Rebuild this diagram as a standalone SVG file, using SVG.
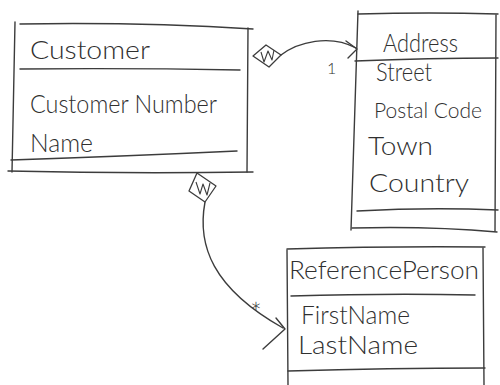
<svg xmlns="http://www.w3.org/2000/svg" width="500" height="385" viewBox="0 0 500 385">
  <style>
    .ln { fill: none; stroke: #3c3c3c; stroke-width: 1.4; stroke-linecap: round; stroke-linejoin: round; }
    .hatch { fill: none; stroke: #3c3c3c; stroke-width: 1.1; stroke-linejoin: round; }
    .dia { fill: #ffffff; stroke: #3c3c3c; stroke-width: 1.3; stroke-linejoin: round; }
    .t { font-family: Lato, "Open Sans", "Liberation Sans", sans-serif; font-weight: 300; font-size: 26px; fill: #303030; }
    .t.small { font-size: 21px; }
    .lbl { font-family: Lato, "Liberation Sans", sans-serif; font-weight: 300; fill: #303030; }
  </style>
  <rect width="500" height="385" fill="#ffffff"/>

  <!-- class: Customer -->
  <g id="customer">
    <path class="ln" d="M20,24 Q140,22 253,29"/>
    <path class="ln" d="M15,22 L12,172"/>
    <path class="ln" d="M248,28 L247,172"/>
    <path class="ln" d="M20,69 Q130,68 240,70"/>
    <path class="ln" d="M11,160 Q130,156 237,151"/>
    <path class="ln" d="M8,171 Q130,174 253,172"/>
    <text class="t" x="30" y="59" textLength="120" lengthAdjust="spacingAndGlyphs">Customer</text>
    <text class="t" x="30" y="113" textLength="187" lengthAdjust="spacingAndGlyphs">Customer Number</text>
    <text class="t" x="30" y="152" textLength="63" lengthAdjust="spacingAndGlyphs">Name</text>
  </g>

  <!-- class: Address -->
  <g id="address">
    <path class="ln" d="M358,14 Q430,12 498,14"/>
    <path class="ln" d="M358,11 Q355,120 351,230"/>
    <path class="ln" d="M355,61 Q430,58 498,58"/>
    <path class="ln" d="M496,15 L495,231"/>
    <path class="ln" d="M357,211 Q430,207 498,210"/>
    <path class="ln" d="M352,228 Q430,226 497,232"/>
    <text class="t" x="383" y="52" textLength="75" lengthAdjust="spacingAndGlyphs">Address</text>
    <text class="t" x="376" y="81" textLength="56" lengthAdjust="spacingAndGlyphs">Street</text>
    <text class="t small" x="374" y="118">Postal Code</text>
    <text class="t" x="368" y="155" textLength="65" lengthAdjust="spacingAndGlyphs">Town</text>
    <text class="t" x="369" y="192" textLength="100" lengthAdjust="spacingAndGlyphs">Country</text>
  </g>

  <!-- class: ReferencePerson -->
  <g id="reference-person">
    <path class="ln" d="M287,249 Q390,246 485,247"/>
    <path class="ln" d="M287,250 L288,385"/>
    <path class="ln" d="M483,248 L484,385"/>
    <path class="ln" d="M291,296 Q390,293 475,295"/>
    <path class="ln" d="M288,371 Q390,368 485,368"/>
    <text class="t" x="289" y="279" textLength="190" lengthAdjust="spacingAndGlyphs">ReferencePerson</text>
    <text class="t" x="301" y="324" textLength="109" lengthAdjust="spacingAndGlyphs">FirstName</text>
    <text class="t" x="298" y="354" textLength="120" lengthAdjust="spacingAndGlyphs">LastName</text>
  </g>

  <!-- composition associations -->
  <g id="connectors">
    <!-- Customer to Address -->
    <path class="ln" d="M281,55 C298,42 330,34 356,48"/>
    <path class="ln" d="M346,41 L357,49 L348,58"/>
    <polygon class="dia" points="253,56 266,45 281,55 269,67"/>
    <path class="hatch" d="M261,52 L264,62 L268,51 L272,60 L274,50"/>
    <text class="lbl" x="327" y="74" font-size="16">1</text>

    <!-- Customer to ReferencePerson -->
    <path class="ln" d="M205,202 C197,245 212,288 283,328"/>
    <path class="ln" d="M276,318 L285,329 L263,349"/>
    <polygon class="dia" points="197,173 216,186 205,202 189,191"/>
    <path class="hatch" d="M196,182 L200,194 L203,184 L207,195 L210,183"/>
    <text class="lbl" x="250" y="322" font-size="28">*</text>
  </g>
</svg>
